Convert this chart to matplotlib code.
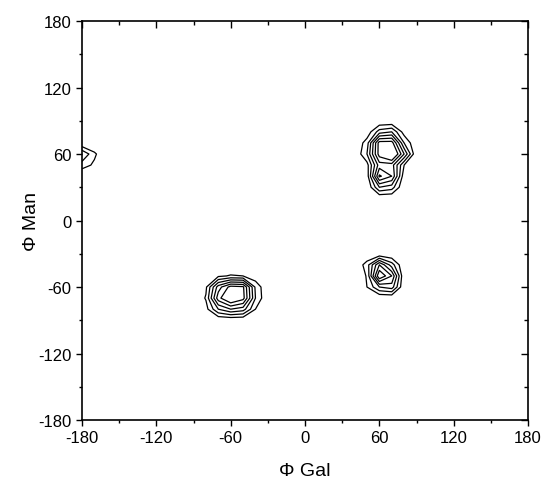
import numpy as np
import matplotlib
matplotlib.use("Agg")
import matplotlib.pyplot as plt
from matplotlib.ticker import MultipleLocator

plt.rcParams['font.family'] = ['Liberation Sans', 'DejaVu Sans']
plt.rcParams['axes.unicode_minus'] = False

# 10-degree grid of population values (estimated from the contour picture)
phi_grid = np.arange(-180, 181, 10)
psi_grid = np.arange(-180, 181, 10)

# each cluster: left phi, top psi, rows go from top psi downwards
cluster_a_phi = 50
cluster_a_psi = 80
cluster_a = [
    [0.3, 2.5, 3.0, 0.5],
    [1.5, 6.5, 6.5, 2.0],
    [2.0, 6.5, 8.0, 4.0],
    [0.6, 4.5, 4.5, 1.0],
    [0.4, 6.2, 5.0, 0.3],
    [0.0, 3.0, 2.5, 0.0],
]

cluster_b_phi = -80
cluster_b_psi = -50
cluster_b = [
    [0.0, 0.8, 1.1, 1.0, 0.3],
    [0.8, 4.5, 6.4, 6.2, 1.8],
    [1.1, 5.6, 7.5, 6.4, 2.0],
    [0.6, 3.0, 4.0, 3.5, 1.0],
]

cluster_c_phi = 50
cluster_c_psi = -40
cluster_c = [
    [1.5, 5.0, 2.5],
    [1.1, 7.0, 5.0],
    [1.0, 3.0, 3.5],
]

cluster_d_phi = -180
cluster_d_psi = 60
cluster_d = [
    [3.0, 1.2],
    [1.5, 0.8],
]

levels = [1, 2, 3, 4, 5, 6]

Z = np.zeros((len(psi_grid), len(phi_grid)))
for p0, s0, block in [(cluster_a_phi, cluster_a_psi, cluster_a),
                      (cluster_b_phi, cluster_b_psi, cluster_b),
                      (cluster_c_phi, cluster_c_psi, cluster_c),
                      (cluster_d_phi, cluster_d_psi, cluster_d)]:
    block = np.array(block)
    for r in range(block.shape[0]):
        for c in range(block.shape[1]):
            i = np.where(psi_grid == s0 - 10 * r)[0][0]
            j = np.where(phi_grid == p0 + 10 * c)[0][0]
            Z[i, j] = block[r, c]

fig = plt.figure(figsize=(5.41, 4.89), dpi=100)
ax = fig.add_axes([0.1516, 0.139, 0.8244, 0.816])

ax.contour(phi_grid, psi_grid, Z, levels=levels, colors='black', linewidths=0.9)

ax.set_xlim(-180, 180)
ax.set_ylim(-180, 180)
ax.xaxis.set_major_locator(MultipleLocator(60))
ax.xaxis.set_minor_locator(MultipleLocator(30))
ax.yaxis.set_major_locator(MultipleLocator(60))
ax.yaxis.set_minor_locator(MultipleLocator(30))

ax.tick_params(which='both', direction='out', top=False, right=False,
               labelsize=12, width=1.0, color='black')
ax.tick_params(which='major', length=4.5, pad=3)
ax.tick_params(which='minor', length=2.5)

# inward ticks on top and right
sec_x = ax.secondary_xaxis('top')
sec_x.xaxis.set_major_locator(MultipleLocator(60))
sec_x.xaxis.set_minor_locator(MultipleLocator(30))
sec_x.tick_params(which='both', direction='in', labeltop=False, width=1.0)
sec_x.tick_params(which='major', length=5)
sec_x.tick_params(which='minor', length=3)
sec_y = ax.secondary_yaxis('right')
sec_y.yaxis.set_major_locator(MultipleLocator(60))
sec_y.yaxis.set_minor_locator(MultipleLocator(30))
sec_y.tick_params(which='both', direction='in', labelright=False, width=1.0)
sec_y.tick_params(which='major', length=5)
sec_y.tick_params(which='minor', length=3)

for s in ax.spines.values():
    s.set_linewidth(1.2)
sec_x.spines['top'].set_visible(False)
sec_y.spines['right'].set_visible(False)

ax.set_xlabel('\u03a6 Gal', fontsize=14, labelpad=12)
ax.set_ylabel('\u03a6 Man', fontsize=14)
ax.yaxis.set_label_coords(-0.095, 0.5)

fig.savefig('out.png', dpi=100)
